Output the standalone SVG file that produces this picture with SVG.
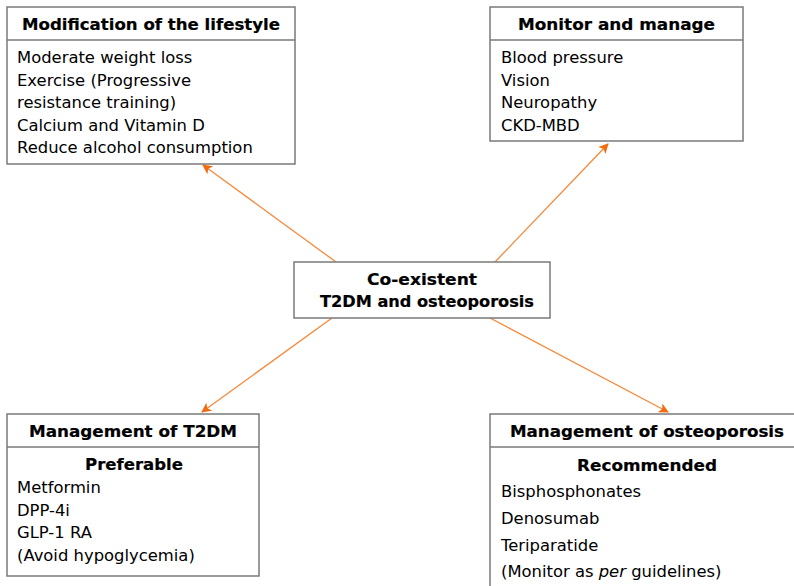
<svg xmlns="http://www.w3.org/2000/svg" width="794" height="586" viewBox="0 0 794 586">
<defs>
<style>
.box{fill:#fff;stroke:#7a7a7a;stroke-width:1.5}
.div{stroke:#7a7a7a;stroke-width:1.5}
.t{font-family:"DejaVu Sans","Liberation Sans",sans-serif;font-size:16.4px;fill:#000}
.b{font-family:"DejaVu Sans","Liberation Sans",sans-serif;font-size:16.5px;font-weight:bold;fill:#000;stroke:#000;stroke-width:0.2;text-anchor:middle}
.c{stroke:#F5883A;stroke-width:1.3;fill:none;marker-end:url(#ah)}
</style>
<marker id="ah" viewBox="0 0 10 10" refX="9" refY="5" markerWidth="12" markerHeight="10" markerUnits="userSpaceOnUse" orient="auto">
<path d="M0,0 L10,5 L0,10 L2.5,5 z" fill="#F26B0F"/>
</marker>
</defs>
<rect width="794" height="586" fill="#fff"/>
<g id="connectors">
<line class="c" x1="336" y1="262" x2="203" y2="165"/>
<line class="c" x1="495" y1="262" x2="608" y2="144"/>
<line class="c" x1="332" y1="318" x2="202" y2="412"/>
<line class="c" x1="490" y1="318" x2="668" y2="412"/>
</g>
<g id="lifestyle">
<rect class="box" x="7" y="7" width="288" height="157"/>
<line class="div" x1="7" y1="40" x2="295" y2="40"/>
<text class="b" x="151" y="30" textLength="258" lengthAdjust="spacingAndGlyphs">Modification of the lifestyle</text>
<text class="t" x="17" y="63">Moderate weight loss</text>
<text class="t" x="17" y="86">Exercise (Progressive</text>
<text class="t" x="17" y="108">resistance training)</text>
<text class="t" x="17" y="131">Calcium and Vitamin D</text>
<text class="t" x="17" y="153">Reduce alcohol consumption</text>
</g>
<g id="monitor">
<rect class="box" x="490" y="7" width="253" height="134"/>
<line class="div" x1="490" y1="40" x2="743" y2="40"/>
<text class="b" x="616.5" y="30" textLength="197" lengthAdjust="spacingAndGlyphs">Monitor and manage</text>
<text class="t" x="501" y="63">Blood pressure</text>
<text class="t" x="501" y="86">Vision</text>
<text class="t" x="501" y="108">Neuropathy</text>
<text class="t" x="501" y="131">CKD-MBD</text>
</g>
<g id="center">
<rect class="box" x="294" y="262" width="256" height="56"/>
<text class="b" x="422" y="285" textLength="110" lengthAdjust="spacingAndGlyphs">Co-existent</text>
<text class="b" x="427" y="307" textLength="214" lengthAdjust="spacingAndGlyphs">T2DM and osteoporosis</text>
</g>
<g id="t2dm">
<rect class="box" x="7" y="414" width="252" height="162"/>
<line class="div" x1="7" y1="447" x2="259" y2="447"/>
<text class="b" x="133" y="437" textLength="208" lengthAdjust="spacingAndGlyphs">Management of T2DM</text>
<text class="b" x="134" y="470" textLength="98" lengthAdjust="spacingAndGlyphs">Preferable</text>
<text class="t" x="17" y="493">Metformin</text>
<text class="t" x="17" y="516">DPP-4i</text>
<text class="t" x="17" y="538">GLP-1 RA</text>
<text class="t" x="17" y="561">(Avoid hypoglycemia)</text>
</g>
<g id="osteoporosis">
<rect class="box" x="490" y="414" width="316" height="180"/>
<line class="div" x1="490" y1="447" x2="806" y2="447"/>
<text class="b" x="647" y="437" textLength="274" lengthAdjust="spacingAndGlyphs">Management of osteoporosis</text>
<text class="b" x="647" y="471" textLength="140" lengthAdjust="spacingAndGlyphs">Recommended</text>
<text class="t" x="501" y="497">Bisphosphonates</text>
<text class="t" x="501" y="524">Denosumab</text>
<text class="t" x="501" y="551">Teriparatide</text>
<text class="t" x="501" y="577">(Monitor as <tspan font-style="italic">per</tspan> guidelines)</text>
</g>
</svg>
